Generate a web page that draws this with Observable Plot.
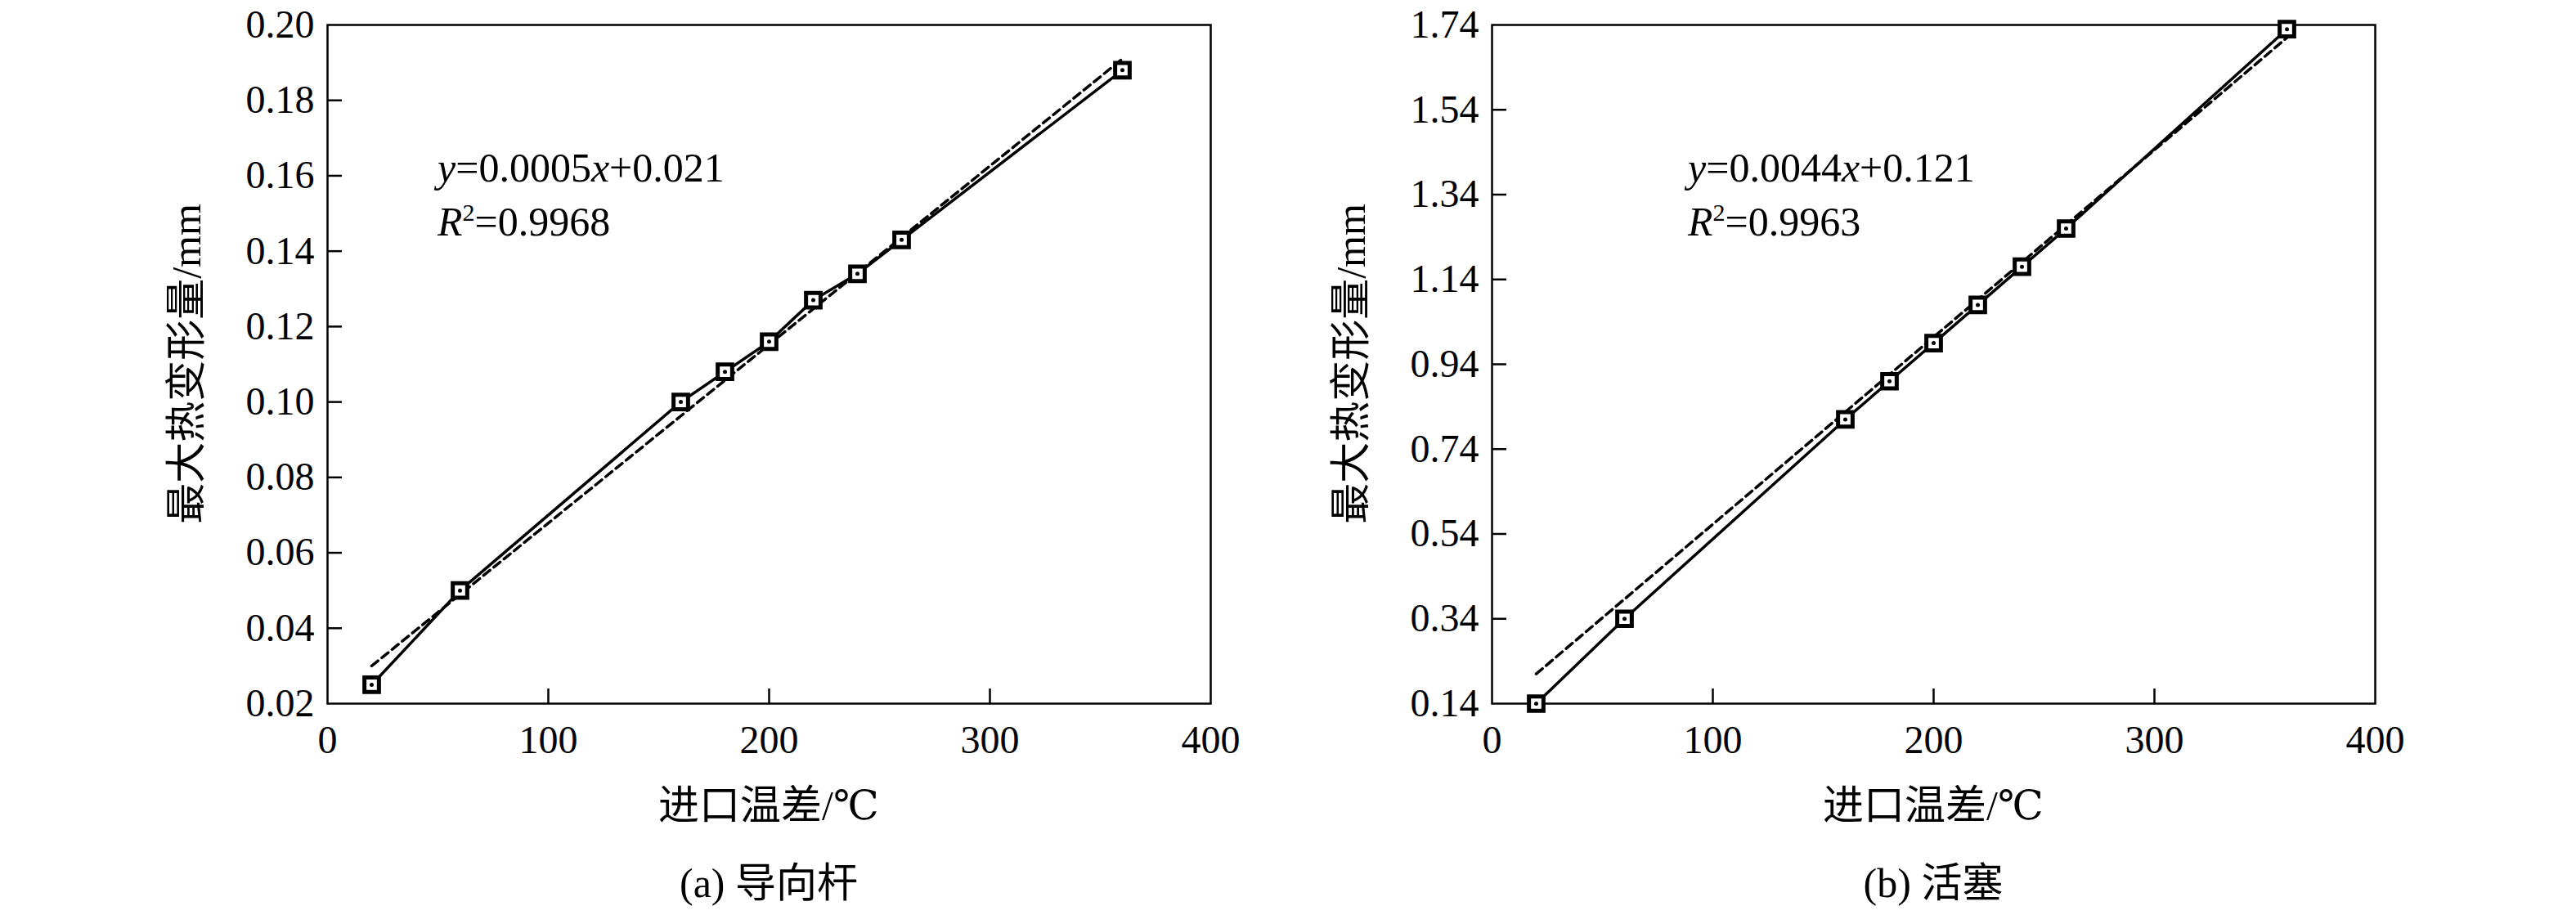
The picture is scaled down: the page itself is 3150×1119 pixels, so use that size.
<!DOCTYPE html>
<html><head><meta charset="utf-8">
<script src="https://cdn.jsdelivr.net/npm/d3@7"></script>
<script src="https://cdn.jsdelivr.net/npm/@observablehq/plot@0.6"></script>
<style>
body{margin:0;background:#fff;}
#wrap{position:relative;width:3150px;height:1119px;background:#fff;}
.p{position:absolute;top:0;}
.p text{font-family:"Liberation Serif","Times New Roman","DejaVu Serif",serif;}
.t{position:absolute;font-family:"Liberation Serif","Times New Roman","DejaVu Serif","Noto Sans CJK SC",serif;font-size:50px;color:#000;white-space:nowrap;line-height:1;}
</style></head><body><div id="wrap"></div>
<script>
const xTemp = [20,60,160,180,200,220,240,260,360];
const yRod = [0.025,0.050,0.100,0.108,0.116,0.127,0.134,0.143,0.188];
const yPiston = [0.14,0.34,0.81,0.90,0.99,1.08,1.17,1.26,1.73];
const fitRodX = [20,360], fitRodY = [0.030,0.191];
const fitPistonX = [20,360], fitPistonY = [0.21,1.71];
const xTicks = [0,100,200,300,400];
const rodTicks = [0.02,0.04,0.06,0.08,0.10,0.12,0.14,0.16,0.18,0.20];
const pistonTicks = [0.14,0.34,0.54,0.74,0.94,1.14,1.34,1.54,1.74];

const wrap = document.getElementById("wrap");
function panel(left, ys, fx, fy, yDom, yT, eq1, eq2, cap, eqX){
  const pts = xTemp.map((x,i)=>({x,y:ys[i]}));
  const fit = fx.map((x,i)=>({x,y:fy[i]}));
  const svg = Plot.plot({
    width:1575, height:1119, marginLeft:400, marginRight:95, marginTop:30, marginBottom:259,
    style:{fontFamily:"'Liberation Serif','Times New Roman',serif",fontSize:"48px",background:"transparent",color:"#000",overflow:"visible"},
    x:{domain:[0,400],label:null},
    y:{domain:yDom,label:null},
    marks:[
      Plot.frame({stroke:"#000",strokeWidth:2.5}),
      Plot.axisX({ticks:xTicks.slice(1,-1),tickSize:-18,tickPadding:0,tickFormat:()=>"",strokeWidth:2.5}),
      Plot.axisX({ticks:xTicks,tickSize:0,tickPadding:26,fontSize:48,tickFormat:d=>String(d)}),
      Plot.axisY({ticks:yT.slice(1,-1),tickSize:-18,tickPadding:0,tickFormat:()=>"",strokeWidth:2.5}),
      Plot.axisY({ticks:yT,tickSize:0,tickPadding:16,fontSize:48,tickFormat:d=>d.toFixed(2)}),
      Plot.line(fit,{x:"x",y:"y",stroke:"#000",strokeWidth:3.5,strokeDasharray:"10,6"}),
      Plot.line(pts,{x:"x",y:"y",stroke:"#000",strokeWidth:3.5}),
      Plot.dot(pts,{x:"x",y:"y",symbol:"square",r:10,stroke:"#000",strokeWidth:5,fill:"#fff"}),
      Plot.dot(pts,{x:"x",y:"y",r:2.5,fill:"#000"})
    ]
  });
  svg.classList.add("p"); svg.style.left=left+"px";
  wrap.appendChild(svg);
  const add=(html,x,y,extra)=>{const d=document.createElement("div");d.className="t";d.innerHTML=html;d.style.left=x+"px";d.style.top=y+"px";if(extra)Object.assign(d.style,extra);wrap.appendChild(d);};
  add(eq1,left+eqX,180);
  add(eq2,left+eqX,245);
  add("进口温差/℃",left+940,960,{transform:"translateX(-50%)"});
  add(cap,left+940,1055,{transform:"translateX(-50%)"});
  add("最大热变形量/mm",left+228,445,{transform:"translate(-50%,-50%) rotate(-90deg)"});
}
panel(0,yRod,fitRodX,fitRodY,[0.02,0.20],rodTicks,
  "<i>y</i>=0.0005<i>x</i>+0.021","<i>R</i><sup style='font-size:30px'>2</sup>=0.9968","(a) 导向杆",535);
panel(1424,yPiston,fitPistonX,fitPistonY,[0.14,1.74],pistonTicks,
  "<i>y</i>=0.0044<i>x</i>+0.121","<i>R</i><sup style='font-size:30px'>2</sup>=0.9963","(b) 活塞",640);
</script></body></html>
